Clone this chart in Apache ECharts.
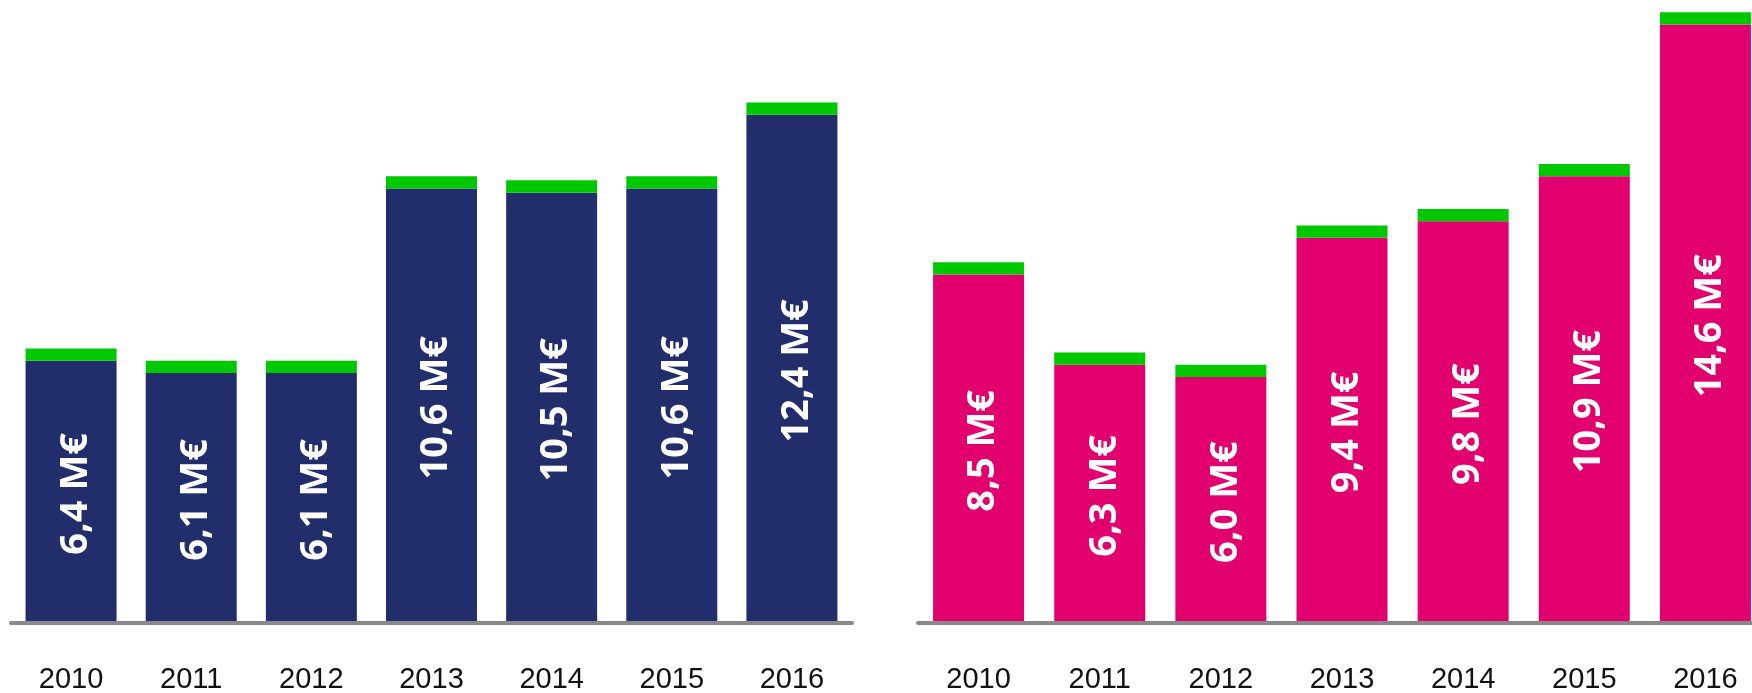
<!DOCTYPE html>
<html>
<head>
<meta charset="utf-8">
<script src="https://cdn.jsdelivr.net/npm/echarts@6/dist/echarts.min.js"></script>
<style>
  html, body { margin: 0; padding: 0; background: #fff; }
  #chart { width: 1752px; height: 693px; }
</style>
</head>
<body>
<div id="chart"></div>
<script>
var years = ['2010', '2011', '2012', '2013', '2014', '2015', '2016'];
var leftValues = [6.4, 6.1, 6.1, 10.6, 10.5, 10.6, 12.4];
var leftCaps = [0.3, 0.3, 0.3, 0.3, 0.3, 0.3, 0.3];
var rightValues = [8.5, 6.3, 6.0, 9.4, 9.8, 10.9, 14.6];
var rightCaps = [0.3, 0.3, 0.3, 0.3, 0.3, 0.3, 0.3];

var NAVY = '#212e6b';
var PINK = '#e2006e';
var GREEN = '#00c800';

function formatMillions(p) {
    return p.value.toFixed(1).replace('.', ',') + ' M€';
}

function createXAxis(gridIndex) {
    return {
        type: 'category',
        gridIndex: gridIndex,
        data: years,
        z: 3,
        axisLine: {
            lineStyle: { color: '#898989', width: 4 }
        },
        axisTick: { show: false },
        axisLabel: {
            margin: 42,
            fontSize: 29,
            color: '#111',
            fontFamily: 'Liberation Sans'
        }
    };
}

function createYAxis(gridIndex) {
    return {
        type: 'value',
        gridIndex: gridIndex,
        min: 0,
        max: 15.2,
        show: false,
        splitLine: { show: false }
    };
}

function createMainSeries(axisIndex, values, color) {
    return {
        type: 'bar',
        xAxisIndex: axisIndex,
        yAxisIndex: axisIndex,
        stack: 'total' + axisIndex,
        barWidth: 91,
        data: values,
        itemStyle: { color: color },
        label: {
            show: true,
            position: 'inside',
            rotate: 90,
            offset: [-2, 5], // rotated frame: 2nd value pushes text right
            formatter: formatMillions,
            color: '#fff',
            fontSize: 38,
            fontWeight: 'bold',
            fontFamily: 'Open Sans'
        }
    };
}

function createCapSeries(axisIndex, values) {
    return {
        type: 'bar',
        xAxisIndex: axisIndex,
        yAxisIndex: axisIndex,
        stack: 'total' + axisIndex,
        barWidth: 91,
        data: values,
        itemStyle: { color: GREEN }
    };
}

var chart = echarts.init(document.getElementById('chart'));

var option = {
    animation: false,
    backgroundColor: '#fff',
    grid: [
        { left: 11, top: 0, right: 900, bottom: 70, outerBoundsMode: 'none' },
        // right panel runs past the canvas edge, as in the original
        { left: 918, top: 0, right: -14, bottom: 70, outerBoundsMode: 'none' }
    ],
    xAxis: [createXAxis(0), createXAxis(1)],
    yAxis: [createYAxis(0), createYAxis(1)],
    series: [
        createMainSeries(0, leftValues, NAVY),
        createCapSeries(0, leftCaps),
        createMainSeries(1, rightValues, PINK),
        createCapSeries(1, rightCaps)
    ]
};

chart.setOption(option);
</script>
</body>
</html>
